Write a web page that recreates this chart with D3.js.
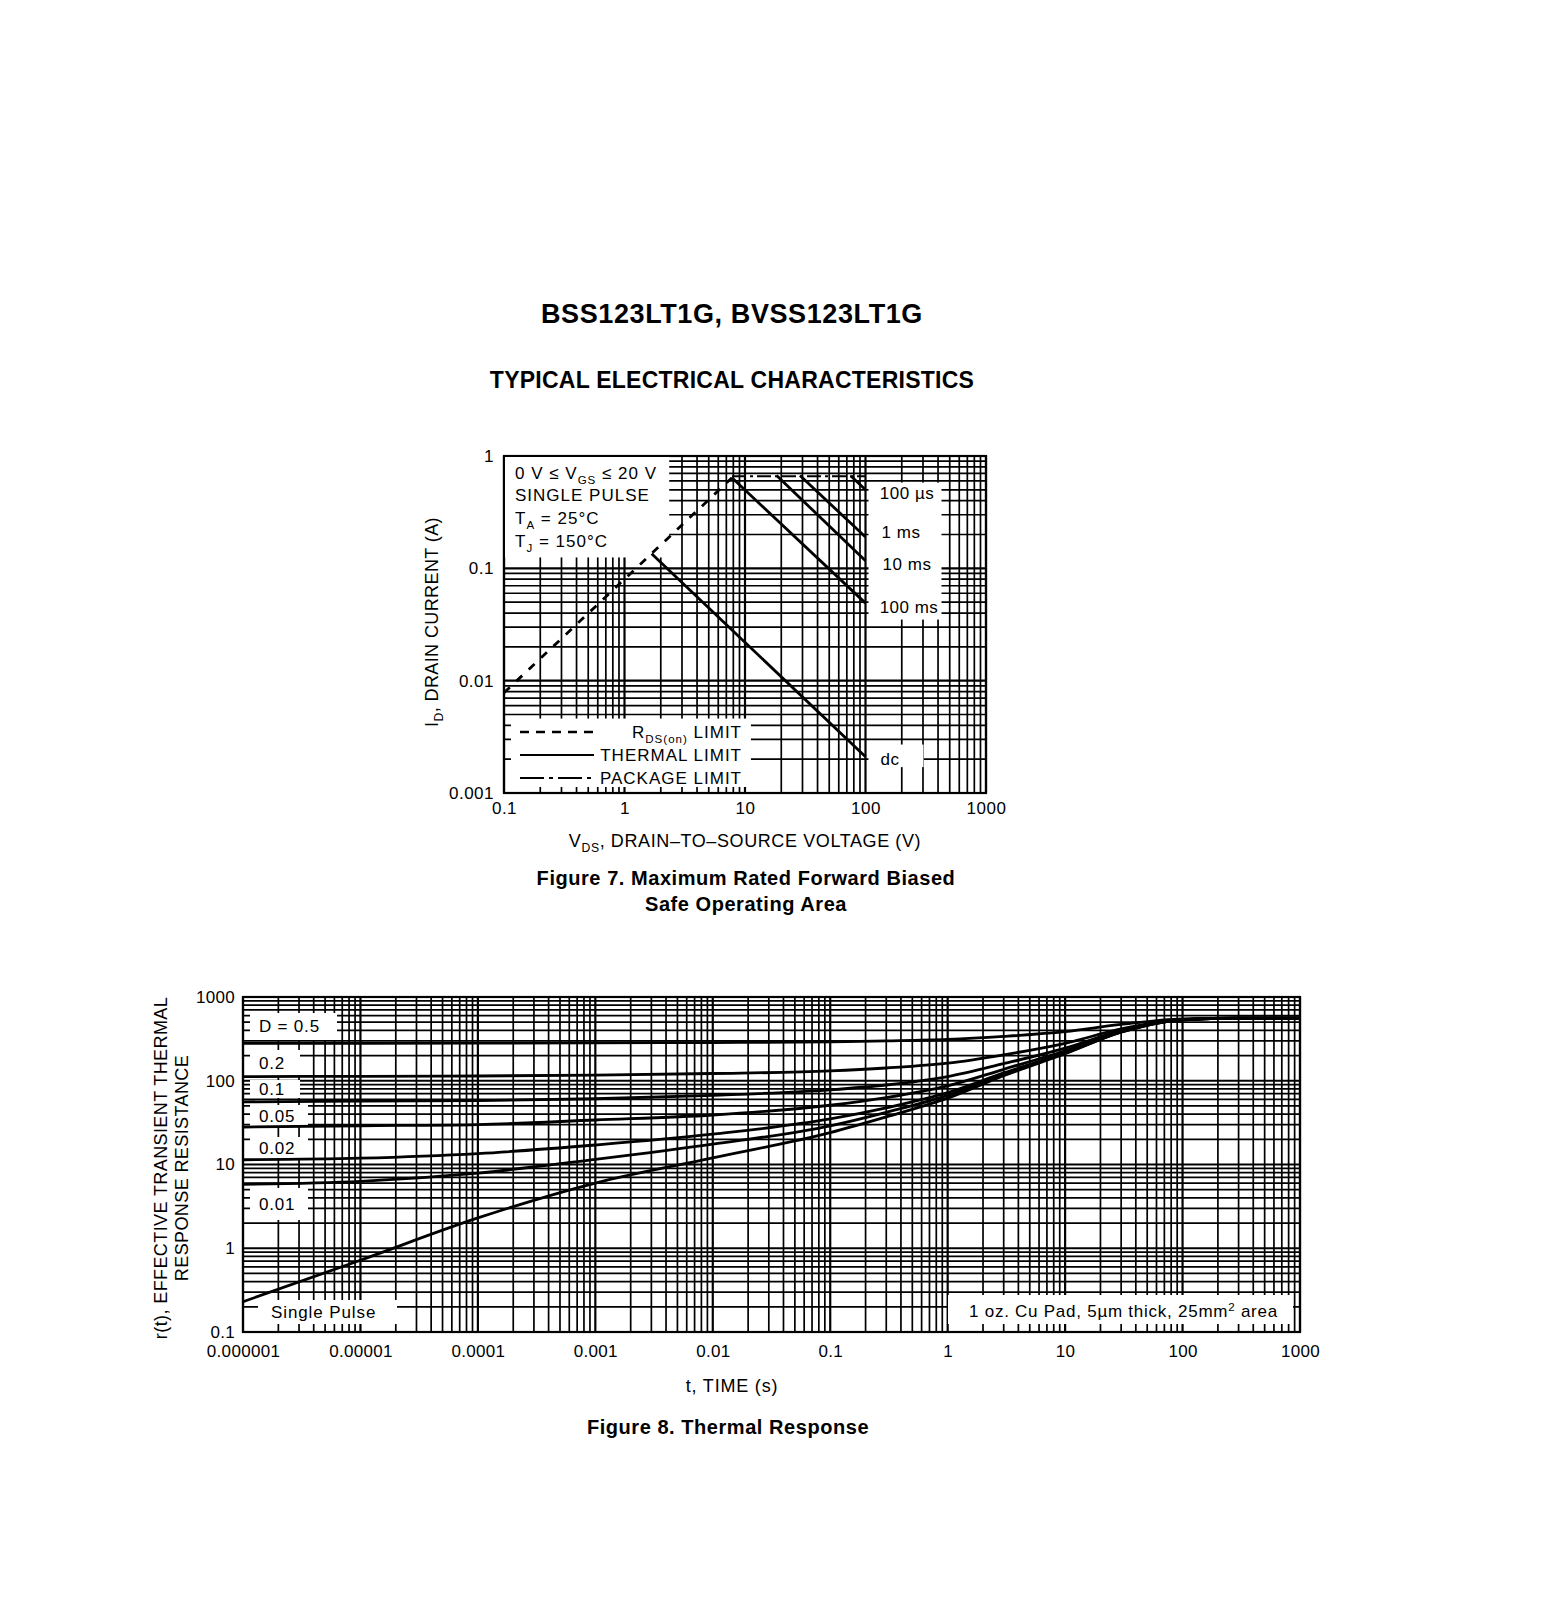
<!DOCTYPE html>
<html>
<head>
<meta charset="utf-8">
<script src="https://cdn.jsdelivr.net/npm/d3@7"></script>
<style>
  body { margin: 0; background: #fff; }
  text { font-family: 'Liberation Sans', Arial, sans-serif; fill: #000; }
</style>
</head>
<body>
<div id="chart"></div>
<script>
// ---- Figure 7: safe operating area ----
const soaVoltTicks = [0.1, 1, 10, 100, 1000];
const soaVoltLabels = ['0.1', '1', '10', '100', '1000'];
const soaCurrTicks = [0.001, 0.01, 0.1, 1];
const soaCurrLabels = ['0.001', '0.01', '0.1', '1'];

// each limit line: voltage points and current points
const rdsLimitV = [0.1, 7.8];
const rdsLimitI = [0.0078, 0.64];
const packageV = [7.8, 100];
const packageI = [0.66, 0.66];
const dcV = [1.68, 100];
const dcI = [0.135, 0.0021];
const ms100V = [7.8, 100];
const ms100I = [0.64, 0.049];
const ms10V = [18.3, 100];
const ms10I = [0.67, 0.117];
const ms1V = [28.6, 100];
const ms1I = [0.67, 0.19];
const us100V = [76, 100];
const us100I = [0.66, 0.5];

// ---- Figure 8: thermal response ----
const timeTicks = [0.000001, 0.00001, 0.0001, 0.001, 0.01, 0.1, 1, 10, 100, 1000];
const timeLabels = ['0.000001', '0.00001', '0.0001', '0.001', '0.01', '0.1', '1', '10', '100', '1000'];
const rTicks = [0.1, 1, 10, 100, 1000];
const rLabels = ['0.1', '1', '10', '100', '1000'];

const thermalTime = [0.000001, 0.00001, 0.0001, 0.001, 0.01, 0.1, 0.3, 1, 3, 10, 30, 100, 300, 1000];
const singlePulse = [0.23, 0.72, 2.3, 6.0, 12, 24, 37, 62, 115, 210, 380, 535, 560, 560];
const duty001 = [5.8, 6.3, 7.9, 11.5, 17.5, 29, 42, 67, 119, 213, 382, 535, 560, 560];
const duty002 = [11.4, 11.9, 13.5, 17.1, 23, 35, 47.5, 72, 124, 217, 384, 535, 560, 560];
const duty005 = [28, 29, 30, 34, 39, 51, 63, 87, 137, 228, 389, 536, 560, 560];
const duty01 = [56, 57, 58, 61, 67, 78, 89, 112, 160, 245, 398, 538, 560, 560];
const duty02 = [112, 113, 114, 117, 122, 131, 142, 162, 204, 280, 416, 540, 560, 560];
const duty05 = [280, 280, 281, 283, 286, 292, 299, 311, 338, 385, 470, 548, 560, 560];

const W = 1553, H = 1600;

const svg = d3.select('#chart')
    .append('svg')
    .attr('width', W)
    .attr('height', H);

svg.append('rect').attr('width', W).attr('height', H).attr('fill', '#fff');

// log grid positions 1..9 per decade
function logGrid(decades) {
    const out = [];
    decades.forEach((d, i) => {
        if (i < decades.length - 1) d3.range(1, 10).forEach(k => out.push(k * d));
        else out.push(d);
    });
    return out;
}

function drawGrid(g, x, y, xDec, yDec) {
    const [x0, x1] = x.range();
    const [y0, y1] = y.range();
    g.append('g').selectAll('line')
        .data(logGrid(xDec))
        .enter().append('line')
        .attr('x1', d => x(d)).attr('x2', d => x(d))
        .attr('y1', y0).attr('y2', y1)
        .attr('stroke', '#000')
        .attr('stroke-width', d => xDec.includes(d) ? 2.2 : 1.7);
    g.append('g').selectAll('line')
        .data(logGrid(yDec))
        .enter().append('line')
        .attr('y1', d => y(d)).attr('y2', d => y(d))
        .attr('x1', x0).attr('x2', x1)
        .attr('stroke', '#000')
        .attr('stroke-width', d => yDec.includes(d) ? 2.2 : 1.7);
    g.append('rect')
        .attr('x', x0).attr('y', y1)
        .attr('width', x1 - x0).attr('height', y0 - y1)
        .attr('fill', 'none').attr('stroke', '#000').attr('stroke-width', 2.2);
}

function whiteBox(g, x0, y0, x1, y1) {
    g.append('rect')
        .attr('x', x0).attr('y', y0)
        .attr('width', x1 - x0).attr('height', y1 - y0)
        .attr('fill', '#fff');
}

function drawAxes(g, x, y, xTicks, xLabels, yTicks, yLabels, xPad, yPad, fs, ls) {
    const ax = g.append('g')
        .attr('transform', `translate(0, ${y.range()[0]})`)
        .call(d3.axisBottom(x).tickValues(xTicks).tickFormat((d, i) => xLabels[i]).tickSize(0).tickPadding(xPad));
    const ay = g.append('g')
        .attr('transform', `translate(${x.range()[0]}, 0)`)
        .call(d3.axisLeft(y).tickValues(yTicks).tickFormat((d, i) => yLabels[i]).tickSize(0).tickPadding(yPad));
    [ax, ay].forEach(a => {
        a.select('.domain').remove();
        a.selectAll('text')
            .style('font-family', "'Liberation Sans', Arial, sans-serif")
            .style('font-size', fs + 'px')
            .style('letter-spacing', ls + 'px')
            .attr('fill', '#000');
    });
}

// text with a subscript (or superscript) part
function richText(g, x, y, parts, size, anchor, ls) {
    const t = g.append('text')
        .attr('x', x).attr('y', y)
        .attr('text-anchor', anchor || 'start')
        .style('font-size', size + 'px')
        .style('letter-spacing', (ls || 0) + 'px');
    parts.forEach(p => {
        const s = t.append('tspan').text(p.t);
        if (p.sub) s.attr('dy', size * 0.28).style('font-size', (size * 0.68) + 'px');
        else if (p.sup) s.attr('dy', -size * 0.38).style('font-size', (size * 0.68) + 'px');
        if (p.back) s.attr('dy', p.back);
    });
    return t;
}

// Titles
svg.append('text').attr('x', 732).attr('y', 323)
    .attr('text-anchor', 'middle').style('font-size', '27px').style('font-weight', 'bold')
    .style('letter-spacing', '0.6px')
    .text('BSS123LT1G, BVSS123LT1G');
svg.append('text').attr('x', 732).attr('y', 388)
    .attr('text-anchor', 'middle').style('font-size', '23px').style('font-weight', 'bold')
    .style('letter-spacing', '0.25px')
    .text('TYPICAL ELECTRICAL CHARACTERISTICS');

// Safe operating area chart
function createSoaChart() {
    const g = svg.append('g');
    const x = d3.scaleLog().domain([0.1, 1000]).range([504, 986]);
    const y = d3.scaleLog().domain([0.001, 1]).range([793, 456]);

    drawGrid(g, x, y, soaVoltTicks, soaCurrTicks);

    // annotation boxes over the grid
    whiteBox(g, x(0.1) + 1, y(1) + 1, x(2.35), y(0.125));
    whiteBox(g, x(0.1) + 7, y(0.0046), x(11.2), y(0.001) - 6);
    whiteBox(g, x(100) + 3, y(0.58), x(100) + 76, y(0.035));
    whiteBox(g, x(100) + 3, y(0.0027), x(100) + 58, y(0.0017));

    const line = d3.line().x(d => x(d[0])).y(d => y(d[1]));
    const zip = (a, b) => a.map((v, i) => [v, b[i]]);

    g.append('path').datum(zip(rdsLimitV, rdsLimitI)).attr('d', line)
        .attr('fill', 'none').attr('stroke', '#000').attr('stroke-width', 2.8)
        .attr('stroke-dasharray', '8,9');
    g.append('path').datum(zip(packageV, packageI)).attr('d', line)
        .attr('fill', 'none').attr('stroke', '#000').attr('stroke-width', 2.2)
        .attr('stroke-dasharray', '14,4,3,4');
    [[dcV, dcI], [ms100V, ms100I], [ms10V, ms10I], [ms1V, ms1I], [us100V, us100I]].forEach(s => {
        g.append('path').datum(zip(s[0], s[1])).attr('d', line)
            .attr('fill', 'none').attr('stroke', '#000').attr('stroke-width', 2.8);
    });

    // condition text
    const fs = 17, sb = -fs * 0.28;
    richText(g, 515, 479, [{ t: '0 V ≤ V' }, { t: 'GS', sub: true }, { t: ' ≤ 20 V', back: sb }], fs, 'start', 1);
    richText(g, 515, 501, [{ t: 'SINGLE PULSE' }], fs, 'start', 1);
    richText(g, 515, 524, [{ t: 'T' }, { t: 'A', sub: true }, { t: ' = 25°C', back: sb }], fs, 'start', 1);
    richText(g, 515, 547, [{ t: 'T' }, { t: 'J', sub: true }, { t: ' = 150°C', back: sb }], fs, 'start', 1);

    // curve labels
    const labs = [['100 µs', 907, 499], ['1 ms', 901, 538], ['10 ms', 907, 570], ['100 ms', 909, 613], ['dc', 890, 765]];
    labs.forEach(l => {
        g.append('text').attr('x', l[1]).attr('y', l[2]).attr('text-anchor', 'middle')
            .style('font-size', '17px').style('letter-spacing', '0.5px').text(l[0]);
    });

    // legend
    const legY = [732, 755, 778];
    g.append('line').attr('x1', 520).attr('x2', 594).attr('y1', legY[0]).attr('y2', legY[0])
        .attr('stroke', '#000').attr('stroke-width', 2.4).attr('stroke-dasharray', '9,7');
    g.append('line').attr('x1', 520).attr('x2', 594).attr('y1', legY[1]).attr('y2', legY[1])
        .attr('stroke', '#000').attr('stroke-width', 2.2);
    g.append('line').attr('x1', 520).attr('x2', 594).attr('y1', legY[2]).attr('y2', legY[2])
        .attr('stroke', '#000').attr('stroke-width', 2.2).attr('stroke-dasharray', '24,5,4,5');
    richText(g, 742, legY[0] + 6, [{ t: 'R' }, { t: 'DS(on)', sub: true }, { t: ' LIMIT', back: sb }], fs, 'end', 1);
    richText(g, 742, legY[1] + 6, [{ t: 'THERMAL LIMIT' }], fs, 'end', 1);
    richText(g, 742, legY[2] + 6, [{ t: 'PACKAGE LIMIT' }], fs, 'end', 1);

    drawAxes(g, x, y, soaVoltTicks, soaVoltLabels, soaCurrTicks, soaCurrLabels, 9, 10, 17, 0.5);

    // axis titles
    richText(g, 745, 847, [{ t: 'V' }, { t: 'DS', sub: true }, { t: ', DRAIN–TO–SOURCE VOLTAGE (V)', back: -18 * 0.28 }], 18, 'middle', 0.6);
    const yt = richText(g, 0, 0, [{ t: 'I' }, { t: 'D', sub: true }, { t: ', DRAIN CURRENT (A)', back: -18 * 0.28 }], 18, 'middle', 0.4);
    yt.attr('transform', 'translate(438, 622) rotate(-90)');

    // caption
    g.append('text').attr('x', 746).attr('y', 885).attr('text-anchor', 'middle')
        .style('font-size', '20px').style('font-weight', 'bold').style('letter-spacing', '0.55px')
        .text('Figure 7. Maximum Rated Forward Biased');
    g.append('text').attr('x', 746).attr('y', 911).attr('text-anchor', 'middle')
        .style('font-size', '20px').style('font-weight', 'bold').style('letter-spacing', '0.55px')
        .text('Safe Operating Area');
}

// Thermal response chart
function createThermalChart() {
    const g = svg.append('g');
    const x = d3.scaleLog().domain([0.000001, 1000]).range([243, 1300]);
    const y = d3.scaleLog().domain([0.1, 1000]).range([1332, 997]);

    drawGrid(g, x, y, timeTicks, rTicks);

    // label boxes
    const bx = 250;
    whiteBox(g, bx, 1013, 337, 1040);
    whiteBox(g, bx, 1050, 300, 1077);
    whiteBox(g, bx, 1080, 300, 1098);
    whiteBox(g, bx, 1105, 308, 1127);
    whiteBox(g, bx, 1137, 308, 1158);
    whiteBox(g, bx, 1188, 308, 1220);
    whiteBox(g, 258, 1300, 397, 1324);
    whiteBox(g, 948, 1295, 1293, 1324);

    const line = d3.line()
        .x((d, i) => x(thermalTime[i]))
        .y(d => y(d))
        .curve(d3.curveMonotoneX);

    [singlePulse, duty001, duty002, duty005, duty01, duty02, duty05].forEach(s => {
        g.append('path').datum(s).attr('d', line)
            .attr('fill', 'none').attr('stroke', '#000').attr('stroke-width', 2.8);
    });

    const dutyLabels = ['D = 0.5', '0.2', '0.1', '0.05', '0.02', '0.01'];
    const dutyLabelY = [1032, 1069, 1095, 1122, 1154, 1210];
    dutyLabels.forEach((l, i) => {
        g.append('text').attr('x', 259).attr('y', dutyLabelY[i])
            .style('font-size', '17px').style('letter-spacing', '0.8px').text(l);
    });
    g.append('text').attr('x', 271).attr('y', 1318).style('font-size', '17px')
        .style('letter-spacing', '0.9px').text('Single Pulse');
    richText(g, 969, 1317, [{ t: '1 oz. Cu Pad, 5µm thick, 25mm' }, { t: '2', sup: true }, { t: ' area', back: 17 * 0.38 }], 17, 'start', 0.75);

    drawAxes(g, x, y, timeTicks, timeLabels, rTicks, rLabels, 13, 8, 17, 0.3);

    g.append('text').attr('x', 732).attr('y', 1392).attr('text-anchor', 'middle')
        .style('font-size', '18px').style('letter-spacing', '0.8px').text('t, TIME (s)');
    g.append('text').attr('transform', 'translate(167, 1168) rotate(-90)').attr('text-anchor', 'middle')
        .style('font-size', '18px').style('letter-spacing', '0.4px').text('r(t), EFFECTIVE TRANSIENT THERMAL');
    g.append('text').attr('transform', 'translate(188, 1168) rotate(-90)').attr('text-anchor', 'middle')
        .style('font-size', '18px').style('letter-spacing', '0.4px').text('RESPONSE RESISTANCE');

    g.append('text').attr('x', 728).attr('y', 1434).attr('text-anchor', 'middle')
        .style('font-size', '20px').style('font-weight', 'bold').style('letter-spacing', '0.55px')
        .text('Figure 8. Thermal Response');
}

createSoaChart();
createThermalChart();
</script>
</body>
</html>
